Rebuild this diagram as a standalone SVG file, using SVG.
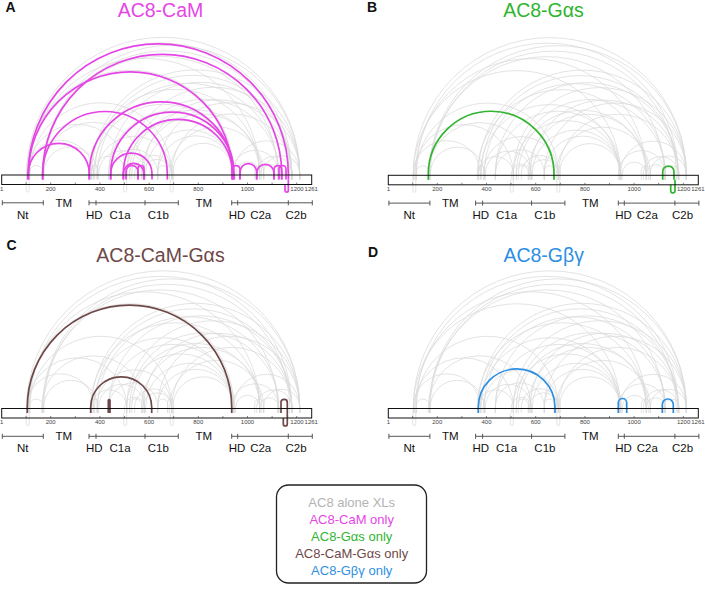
<svg xmlns="http://www.w3.org/2000/svg" xmlns:xlink="http://www.w3.org/1999/xlink" width="705" height="591" viewBox="0 0 705 591">
<style>
text{font-family:"Liberation Sans",Arial,sans-serif}
.title{font-size:19.5px;text-anchor:middle}
.plab{font-size:14px;font-weight:bold;fill:#111}
.tick{font-size:6px;fill:#444;text-anchor:middle}
.dom{font-size:11.5px;fill:#111;text-anchor:middle}
.dline{stroke:#555;stroke-width:1;fill:none}
.gray path{fill:none;stroke:#d9d9d9;stroke-width:0.75}
.arc{fill:none;stroke-width:1.7}
.cam{stroke:#e645e6}
.gas{stroke:#2fb52f}
.cg{stroke:#6e4848}
.gbg{stroke:#2d8fe3}
.leg{font-size:13px;text-anchor:middle}
</style>
<defs>
<rect id="barfill" x="0" y="0" width="310" height="9.5" fill="#fff"/>
<g id="xl" class="gray">
<path d="M25 4.5V-1.2A136.5 136.5 0 0 1 298 -1.2V4.5"/>
<path d="M28 4.5V-1.2A131 131 0 0 1 290 -1.2V4.5"/>
<path d="M41 4.5V-1.2A128.5 128.5 0 0 1 298 -1.2V4.5"/>
<path d="M27 4.5V-1.2A115.5 115.5 0 0 1 258 -1.2V4.5"/>
<path d="M42 4.5V-1.2A123 123 0 0 1 288 -1.2V4.5"/>
<path d="M25 4.5V-1.2A103.5 103.5 0 0 1 232 -1.2V4.5"/>
<path d="M41 4.5V-1.2A117.5 117.5 0 0 1 276 -1.2V4.5"/>
<path d="M28 4.5V-1.2A71 71 0 0 1 170 -1.2V4.5"/>
<path d="M26 4.5V-1.2A49.5 49.5 0 0 1 125 -1.2V4.5"/>
<path d="M25 4.5V-1.2A33.5 33.5 0 0 1 92 -1.2V4.5"/>
<path d="M28 4.5V-3A6.5 6.5 0 0 1 41 -3V4.5"/>
<path d="M40 4.5V-1.2A51.5 51.5 0 0 1 143 -1.2V4.5"/>
<path d="M42 4.5V-1.2A27 27 0 0 1 96 -1.2V4.5"/>
<path d="M90 4.5V-1.2A104 104 0 0 1 298 -1.2V4.5"/>
<path d="M93 4.5V-1.2A98.5 98.5 0 0 1 290 -1.2V4.5"/>
<path d="M96 4.5V-1.2A90.5 90.5 0 0 1 277 -1.2V4.5"/>
<path d="M89 4.5V-1.2A84.5 84.5 0 0 1 258 -1.2V4.5"/>
<path d="M92 4.5V-1.2A69.5 69.5 0 0 1 231 -1.2V4.5"/>
<path d="M95 4.5V-1.2A37.5 37.5 0 0 1 170 -1.2V4.5"/>
<path d="M97 4.5V-1.2A23 23 0 0 1 143 -1.2V4.5"/>
<path d="M90 4.5V-1.2A17.5 17.5 0 0 1 125 -1.2V4.5"/>
<path d="M107 4.5V-1.2A91.5 91.5 0 0 1 290 -1.2V4.5"/>
<path d="M107 4.5V-1.2A63 63 0 0 1 233 -1.2V4.5"/>
<path d="M107 4.5V-1.2A24.5 24.5 0 0 1 156 -1.2V4.5"/>
<path d="M125 4.5V-1.2A86.5 86.5 0 0 1 298 -1.2V4.5"/>
<path d="M128 4.5V-1.2A74.5 74.5 0 0 1 277 -1.2V4.5"/>
<path d="M130 4.5V-1.2A64 64 0 0 1 258 -1.2V4.5"/>
<path d="M125 4.5V-1.2A53.5 53.5 0 0 1 232 -1.2V4.5"/>
<path d="M133 4.5V-1.2A18.5 18.5 0 0 1 170 -1.2V4.5"/>
<path d="M123 4.5V-1.2A10 10 0 0 1 143 -1.2V4.5"/>
<path d="M128 4.5V-3.5A6 6 0 0 1 140 -3.5V4.5"/>
<path d="M142 4.5V-1.2A74 74 0 0 1 290 -1.2V4.5"/>
<path d="M140 4.5V-1.2A60 60 0 0 1 260 -1.2V4.5"/>
<path d="M144 4.5V-1.2A44 44 0 0 1 232 -1.2V4.5"/>
<path d="M141 4.5V-1.2A14.5 14.5 0 0 1 170 -1.2V4.5"/>
<path d="M156 4.5V-1.2A71 71 0 0 1 298 -1.2V4.5"/>
<path d="M156 4.5V-1.2A38 38 0 0 1 232 -1.2V4.5"/>
<path d="M156 4.5V-4.5A5 5 0 0 1 166 -4.5V4.5"/>
<path d="M170 4.5V-1.2A60 60 0 0 1 290 -1.2V4.5"/>
<path d="M168 4.5V-1.2A47 47 0 0 1 262 -1.2V4.5"/>
<path d="M171 4.5V-1.2A30.5 30.5 0 0 1 232 -1.2V4.5"/>
<path d="M232 4.5V-1.2A33 33 0 0 1 298 -1.2V4.5"/>
<path d="M230 4.5V-1.2A23.5 23.5 0 0 1 277 -1.2V4.5"/>
<path d="M234 4.5V-1.2A12 12 0 0 1 258 -1.2V4.5"/>
<path d="M255 4.5V-1.2A17.5 17.5 0 0 1 290 -1.2V4.5"/>
<path d="M258 4.5V-1.2A9.5 9.5 0 0 1 277 -1.2V4.5"/>
<path d="M262 4.5V-1.2A18 18 0 0 1 298 -1.2V4.5"/>
<path d="M276 4.5V-2A7.5 7.5 0 0 1 291 -2V4.5"/>
<path d="M90 4.5V-6.5A3 3 0 0 1 96 -6.5V4.5"/>
<path d="M166 4.5V-6.5A3 3 0 0 1 172 -6.5V4.5"/>
<path d="M253 4.5V-5A4.5 4.5 0 0 1 262 -5V4.5"/>
<path d="M24.5 4.5V15.5A1.5 1.5 0 0 0 27.5 15.5V4.5"/>
<path d="M122 4.5V15.5A1.5 1.5 0 0 0 125 15.5V4.5"/>
<path d="M168.5 4.5V15.5A1.5 1.5 0 0 0 171.5 15.5V4.5"/>
</g>
<g id="axis">
<rect x="0" y="0" width="310" height="9.5" fill="none" stroke="#111" stroke-width="1"/>
<path d="M24.4 9.5v-2M49 9.5v-2M73.6 9.5v-2M98.2 9.5v-2M122.8 9.5v-2M147.4 9.5v-2M172 9.5v-2M196.6 9.5v-2M221.2 9.5v-2M245.8 9.5v-2M270.4 9.5v-2M295 9.5v-2" stroke="#333" stroke-width="0.6"/>
<text class="tick" x="0" y="15.8">1</text>
<text class="tick" x="49" y="15.8">200</text>
<text class="tick" x="98.2" y="15.8">400</text>
<text class="tick" x="147.4" y="15.8">600</text>
<text class="tick" x="196.6" y="15.8">800</text>
<text class="tick" x="245.8" y="15.8">1000</text>
<text class="tick" x="295.3" y="15.8">1200</text>
<text class="tick" x="309.6" y="15.8">1261</text>
<path class="dline" d="M0.6 27.8H41.6M0.6 25.3v5M41.6 25.3v5M87.3 27.8H176.6M87.3 25.3v5M94.3 25.3v5M143.3 25.3v5M176.6 25.3v5M230 27.8H310.6M230 25.3v5M236 25.3v5M286.6 25.3v5M310.6 25.3v5"/>
<text class="dom" x="62.1" y="31.8">TM</text>
<text class="dom" x="202.1" y="31.8">TM</text>
<text class="dom" x="21" y="43.8">Nt</text>
<text class="dom" x="92.5" y="43.8">HD</text>
<text class="dom" x="118.3" y="43.8">C1a</text>
<text class="dom" x="156.6" y="43.8">C1b</text>
<text class="dom" x="235.3" y="43.8">HD</text>
<text class="dom" x="259" y="43.8">C2a</text>
<text class="dom" x="294.3" y="43.8">C2b</text>
</g>
</defs>

<g id="panelA">
<text class="plab" x="5.5" y="12">A</text>
<text class="title" x="160.5" y="17" fill="#e645e6">AC8-CaM</text>
<g transform="translate(1.7,175)">
<use xlink:href="#barfill"/>
<use xlink:href="#xl"/>
<g class="arc cam">
<path d="M26.6 4.5V-1.2A130 130 0 0 1 286.6 -1.2V4.5"/>
<path d="M41 4.5V-1.2A119.5 119.5 0 0 1 280 -1.2V4.5"/>
<path d="M26.6 4.5V-1.2A102 102 0 0 1 230.6 -1.2V4.5"/>
<path d="M87.6 4.5V-1.2A72 72 0 0 1 231.6 -1.2V4.5"/>
<path d="M41 4.5V-1.2A62.3 62.3 0 0 1 165.6 -1.2V4.5"/>
<path d="M26.6 4.5V-1.2A30.5 30.5 0 0 1 87.6 -1.2V4.5"/>
<path d="M109 4.5V-1.2A61.65 61.65 0 0 1 232.3 -1.2V4.5"/>
<path d="M121.6 4.5V-1.2A54.5 54.5 0 0 1 230.6 -1.2V4.5"/>
<path d="M109 4.5V-1.2A20.65 20.65 0 0 1 150.3 -1.2V4.5"/>
<path d="M121.6 4.5V-1.2A10.35 10.35 0 0 1 142.3 -1.2V4.5"/>
<path d="M124.3 4.5V-3.5A6 6 0 0 1 136.3 -3.5V4.5"/>
<path d="M136.3 4.5V-6.5A3 3 0 0 1 142.3 -6.5V4.5"/>
<path d="M230.6 4.5V-5.6A3.85 3.85 0 0 1 238.3 -5.6V4.5"/>
<path d="M238.3 4.5V-3A8.35 8.35 0 0 1 255 -3V4.5"/>
<path d="M255 4.5V-2A8.65 8.65 0 0 1 272.3 -2V4.5"/>
<path d="M272.3 4.5V-5.6A3.85 3.85 0 0 1 280 -5.6V4.5"/>
<path d="M277.3 4.5V-6A3.5 3.5 0 0 1 284.3 -6V4.5"/>
<path d="M283.3 9.5V15.5A1.65 1.65 0 0 0 286.6 15.5V4.5"/>
</g>
<use xlink:href="#axis"/>
</g>
</g>

<g id="panelB">
<text class="plab" x="367" y="12">B</text>
<text class="title" x="543.5" y="17" fill="#2fb52f">AC8-Gαs</text>
<g transform="translate(388.3,175.3)">
<use xlink:href="#barfill"/>
<use xlink:href="#xl"/>
<g class="arc gas">
<path d="M40 4.5V-1.2A62.85 62.85 0 0 1 165.7 -1.2V4.5"/>
<path d="M274.4 4.5V-3.6A5.65 5.65 0 0 1 285.7 -3.6V4.5"/>
<path d="M282.4 9.5V15.5A2.15 2.15 0 0 0 286.7 15.5V4.5"/>
</g>
<use xlink:href="#axis"/>
</g>
</g>

<g id="panelC">
<text class="plab" x="6.5" y="250">C</text>
<text class="title" x="160.5" y="262" fill="#6e4848">AC8-CaM-Gαs</text>
<g transform="translate(1.7,408.5)">
<use xlink:href="#barfill"/>
<use xlink:href="#xl"/>
<g class="arc cg">
<path d="M25.6 4.5V-1.2A102.2 102.2 0 0 1 230 -1.2V4.5"/>
<path d="M89 4.5V-1.2A30.5 30.5 0 0 1 150 -1.2V4.5"/>
<path d="M106.6 4.5V-8A0.85 0.85 0 0 1 108.3 -8V4.5"/>
<path d="M279.3 4.5V-6A3.15 3.15 0 0 1 285.6 -6V4.5"/>
<path d="M281.6 9.5V15.5A2 2 0 0 0 285.6 15.5V4.5"/>
</g>
<use xlink:href="#axis"/>
</g>
</g>

<g id="panelD">
<text class="plab" x="368" y="257">D</text>
<text class="title" x="543.7" y="262" fill="#2d8fe3">AC8-Gβγ</text>
<g transform="translate(388.3,408.5)">
<use xlink:href="#barfill"/>
<use xlink:href="#xl"/>
<g class="arc gbg">
<path d="M90 4.5V-1.2A38.35 38.35 0 0 1 166.7 -1.2V4.5"/>
<path d="M230 4.5V-5.8A4.2 4.2 0 0 1 238.4 -5.8V4.5"/>
<path d="M274 4.5V-4A5.5 5.5 0 0 1 285 -4V4.5"/>
</g>
<use xlink:href="#axis"/>
</g>
</g>

<g id="legend">
<rect x="276.5" y="485" width="150" height="98" rx="12" ry="12" fill="#fff" stroke="#222" stroke-width="1.3"/>
<text class="leg" x="351.7" y="506.5" fill="#b3b3b3">AC8 alone XLs</text>
<text class="leg" x="351.7" y="523.6" fill="#e645e6">AC8-CaM only</text>
<text class="leg" x="351.7" y="540.7" fill="#2fb52f">AC8-Gαs only</text>
<text class="leg" x="351.7" y="557.8" fill="#6e4848">AC8-CaM-Gαs only</text>
<text class="leg" x="351.7" y="574.9" fill="#2d8fe3">AC8-Gβγ only</text>
</g>
</svg>
